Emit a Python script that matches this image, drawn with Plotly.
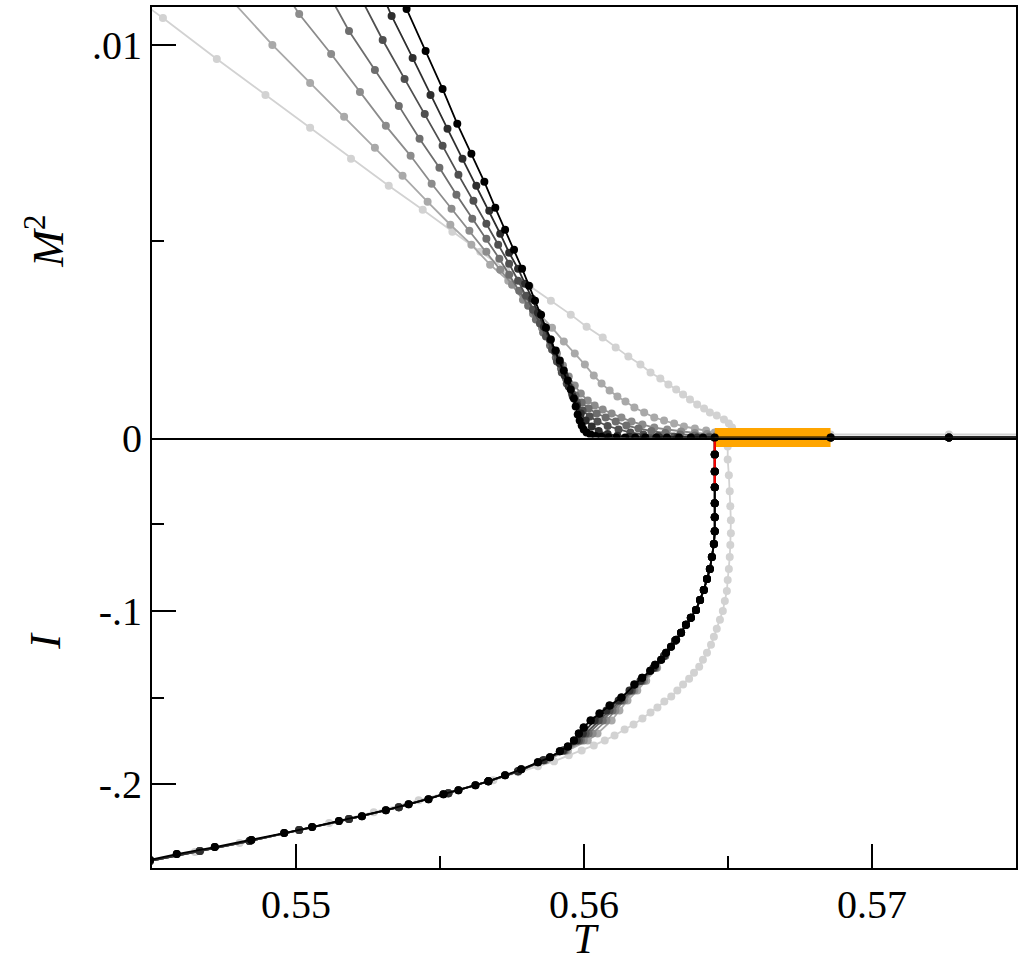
import plotly.graph_objects as go

# ---------------- data ----------------
# series order: lightest (L1) ... black (S7)
T_L1_TOP = [0.54462,0.54538,0.54725,0.54894,0.55049,0.55191,0.55322,0.55440,0.55543,0.55640,
            0.55730,0.55813,0.55885,0.55954,0.56009,0.56065,0.56110,0.56154,0.56196,0.56231,
            0.56265,0.56293,0.56320,0.56344,0.56368,0.56393,0.56417,0.56437,0.56461,0.56486,
            0.56503,0.56514,0.56520,0.56531,0.56856,0.57267,0.57706]
M2_L1 = [0.011094,0.010687,0.009644,0.008728,0.007888,0.007099,0.006412,0.005802,0.005242,0.004733,
         0.004275,0.003842,0.003486,0.003130,0.002824,0.002545,0.002290,0.002061,0.001858,0.001654,
         0.001501,0.001349,0.001221,0.001094,0.000967,0.000840,0.000738,0.000636,0.000560,0.000458,
         0.000356,0.000254,0.000153,0.000076,0.000076,0.000076,0.000076]
T_L1_BOT = [0.54493,0.54649,0.54804,0.54959,0.55115,0.55270,0.55426,0.55564,0.55685,0.55771,
            0.55840,0.55896,0.55947,0.55992,0.56034,0.56072,0.56106,0.56141,0.56172,0.56203,
            0.56231,0.56255,0.56279,0.56303,0.56324,0.56344,0.56365,0.56382,0.56400,0.56413,
            0.56427,0.56441,0.56451,0.56461,0.56472,0.56482,0.56489,0.56496,0.56499,0.56503,
            0.56506,0.56508,0.56510,0.56510,0.56508,0.56506,0.56503,0.56499,0.56499,0.56506,
            0.56856,0.57267,0.57706]
I_L1 = [-0.24425,-0.23908,-0.23391,-0.22816,-0.22241,-0.21609,-0.20920,-0.20345,-0.19770,-0.19310,
        -0.18966,-0.18678,-0.18333,-0.18046,-0.17759,-0.17471,-0.17184,-0.16839,-0.16552,-0.16207,
        -0.15862,-0.15575,-0.15230,-0.14943,-0.14598,-0.14253,-0.13908,-0.13563,-0.13218,-0.12816,
        -0.12414,-0.11954,-0.11494,-0.11034,-0.10517,-0.10000,-0.09425,-0.08851,-0.08218,-0.07586,
        -0.06897,-0.06207,-0.05517,-0.04770,-0.03966,-0.03103,-0.02184,-0.01264,-0.00517,0.0,
        0.0,0.0,0.0]

T_S2_TOP = [0.54766,0.54918,0.55049,0.55167,0.55274,0.55370,0.55457,0.55536,0.55609,0.55674,
            0.55737,0.55792,0.55844,0.55889,0.55930,0.55968,0.56003,0.56034,0.56061,0.56089,
            0.56116,0.56144,0.56175,0.56209,0.56244,0.56278,0.56313,0.56347,0.56385,0.56424,
            0.56454,0.56486,0.56517,0.56856,0.57267,0.57706]
M2_S2 = [0.011221,0.010000,0.009033,0.008168,0.007379,0.006667,0.006005,0.005420,0.004911,0.004402,
         0.003995,0.003562,0.003155,0.002799,0.002443,0.002137,0.001858,0.001578,0.001374,0.001196,
         0.001043,0.000916,0.000763,0.000636,0.000509,0.000433,0.000356,0.000280,0.000229,0.000178,
         0.000127,0.000076,0.000025,0.0,0.0,0.0]

T_S3_TOP = [0.54977,0.55011,0.55122,0.55222,0.55312,0.55398,0.55471,0.55540,0.55602,0.55661,
            0.55709,0.55750,0.55788,0.55823,0.55854,0.55882,0.55906,0.55927,0.55947,0.55968,
            0.55989,0.56013,0.56037,0.56065,0.56096,0.56130,0.56165,0.56203,0.56244,0.56289,
            0.56337,0.56385,0.56427,0.56461,0.56496,0.56856,0.57267,0.57706]
M2_S3 = [0.011170,0.010789,0.009771,0.008804,0.007939,0.007176,0.006463,0.005827,0.005267,0.004733,
         0.004275,0.003893,0.003511,0.003155,0.002799,0.002468,0.002137,0.001832,0.001552,0.001323,
         0.001120,0.000941,0.000814,0.000712,0.000611,0.000509,0.000407,0.000331,0.000254,0.000204,
         0.000153,0.000115,0.000089,0.000064,0.000025,0.0,0.0,0.0]

T_S4_TOP = [0.55125,0.55184,0.55274,0.55357,0.55429,0.55498,0.55557,0.55612,0.55661,0.55706,
            0.55740,0.55775,0.55806,0.55833,0.55858,0.55882,0.55902,0.55920,0.55937,0.55954,
            0.55971,0.55992,0.56016,0.56044,0.56075,0.56110,0.56147,0.56189,0.56234,0.56282,
            0.56334,0.56385,0.56434,0.56461,0.56856,0.57267,0.57706]
M2_S4 = [0.011145,0.010356,0.009364,0.008448,0.007608,0.006870,0.006183,0.005573,0.005064,0.004555,
         0.004148,0.003740,0.003359,0.003003,0.002672,0.002341,0.002036,0.001756,0.001501,0.001272,
         0.001069,0.000891,0.000738,0.000611,0.000509,0.000407,0.000305,0.000229,0.000165,0.000115,
         0.000076,0.000051,0.000025,0.000013,0.0,0.0,0.0]

T_S5_TOP = [0.55229,0.55301,0.55377,0.55447,0.55509,0.55564,0.55616,0.55661,0.55702,0.55740,
            0.55771,0.55799,0.55823,0.55847,0.55868,0.55889,0.55906,0.55923,0.55940,0.55958,
            0.55975,0.55995,0.56020,0.56047,0.56082,0.56120,0.56161,0.56206,0.56258,0.56313,
            0.56372,0.56434,0.56856,0.57267,0.57706]
M2_S5 = [0.011145,0.010127,0.009135,0.008244,0.007430,0.006692,0.006031,0.005445,0.004911,0.004427,
         0.003995,0.003613,0.003257,0.002901,0.002570,0.002239,0.001934,0.001654,0.001374,0.001120,
         0.000891,0.000687,0.000534,0.000407,0.000293,0.000204,0.000127,0.000076,0.000038,0.000018,
         0.000005,0.0,0.0,0.0,0.0]

T_S6_TOP = [0.55308,0.55332,0.55405,0.55467,0.55526,0.55578,0.55626,0.55671,0.55709,0.55740,
            0.55771,0.55795,0.55820,0.55840,0.55861,0.55882,0.55899,0.55916,0.55933,0.55947,
            0.55961,0.55975,0.55989,0.56006,0.56027,0.56051,0.56082,0.56116,0.56158,0.56206,
            0.56262,0.56324,0.56393,0.56454,0.56856,0.57267,0.57706]
M2_S6 = [0.011145,0.010738,0.009669,0.008728,0.007863,0.007099,0.006412,0.005776,0.005191,0.004707,
         0.004300,0.003919,0.003537,0.003181,0.002824,0.002494,0.002188,0.001883,0.001578,0.001298,
         0.001043,0.000814,0.000611,0.000433,0.000280,0.000165,0.000089,0.000043,0.000018,0.000005,
         0.0,0.0,0.0,0.0,0.0,0.0,0.0]

T_S7_TOP = [0.55370,0.55384,0.55450,0.55509,0.55560,0.55609,0.55654,0.55692,0.55726,0.55757,
            0.55785,0.55809,0.55830,0.55851,0.55868,0.55885,0.55902,0.55916,0.55930,0.55944,
            0.55954,0.55965,0.55971,0.55978,0.55985,0.55992,0.55999,0.56009,0.56023,0.56040,
            0.56061,0.56085,0.56112,0.56143,0.56178,0.56213,0.56251,0.56288,0.56330,0.56371,
            0.56413,0.56454,0.56856,0.57267,0.57706]
M2_S7 = [0.011145,0.010916,0.009847,0.008880,0.007990,0.007226,0.006514,0.005852,0.005293,0.004784,
         0.004300,0.003868,0.003486,0.003130,0.002799,0.002494,0.002214,0.001959,0.001705,0.001450,
         0.001221,0.000992,0.000789,0.000585,0.000433,0.000305,0.000204,0.000127,0.000076,0.000038,
         0.000018,0.000005,0.0,0.0,0.0,0.0,0.0,0.0,0.0,0.0,
         0.0,0.0,0.0,0.0,0.0]

# bottom panel (I) for the intermediate series, sampled on common I levels
I_GRAY = [-0.24425,-0.23851,-0.23276,-0.22644,-0.22011,-0.21322,-0.20517,-0.19828,-0.19253,
          -0.18621,-0.18046,-0.17471,-0.17069,-0.16322,-0.15747,-0.15172,-0.14598,-0.14023,-0.13276,-0.12586,-0.11724,
          -0.11264,-0.10805,-0.10402,-0.09943,-0.09368,-0.08793,-0.08161,-0.07586,-0.06897,-0.06149,
          -0.05402,-0.04598,-0.03793,-0.02874,-0.01954,-0.00977,0.0,0.0,0.0,0.0]
T_S2_BOT = [0.54493,0.54666,0.54839,0.55011,0.55184,0.55357,0.55529,0.55668,0.55771,
            0.55868,0.55944,0.56013,0.56047,0.56096,0.56123,0.56151,0.56185,0.56216,0.56254,0.56282,0.56316,
            0.56337,0.56354,0.56371,0.56389,0.56403,0.56416,0.56427,0.56437,0.56444,0.56451,
            0.56454,0.56454,0.56454,0.56454,0.56454,0.56454,0.56454,0.56856,0.57267,0.57706]
T_S3_BOT = [0.54493,0.54666,0.54839,0.55011,0.55184,0.55357,0.55529,0.55668,0.55771,
            0.55864,0.55937,0.55999,0.56030,0.56078,0.56109,0.56140,0.56175,0.56209,0.56251,0.56282,0.56316,
            0.56337,0.56354,0.56371,0.56389,0.56403,0.56416,0.56427,0.56437,0.56444,0.56451,
            0.56454,0.56454,0.56454,0.56454,0.56454,0.56454,0.56454,0.56856,0.57267,0.57706]
T_S4_BOT = [0.54493,0.54666,0.54839,0.55011,0.55184,0.55357,0.55529,0.55668,0.55771,
            0.55861,0.55933,0.55989,0.56016,0.56065,0.56099,0.56133,0.56168,0.56203,0.56247,0.56282,0.56316,
            0.56337,0.56354,0.56371,0.56389,0.56403,0.56416,0.56427,0.56437,0.56444,0.56451,
            0.56454,0.56454,0.56454,0.56454,0.56454,0.56454,0.56454,0.56856,0.57267,0.57706]
T_S5_BOT = [0.54493,0.54666,0.54839,0.55011,0.55184,0.55357,0.55529,0.55668,0.55771,
            0.55861,0.55930,0.55982,0.56006,0.56051,0.56089,0.56127,0.56165,0.56199,0.56244,0.56278,0.56316,
            0.56337,0.56354,0.56371,0.56389,0.56403,0.56416,0.56427,0.56437,0.56444,0.56451,
            0.56454,0.56454,0.56454,0.56454,0.56454,0.56454,0.56454,0.56856,0.57267,0.57706]
T_S6_BOT = [0.54493,0.54666,0.54839,0.55011,0.55184,0.55357,0.55529,0.55668,0.55771,
            0.55858,0.55927,0.55975,0.55996,0.56037,0.56078,0.56120,0.56158,0.56196,0.56241,0.56278,0.56316,
            0.56337,0.56354,0.56371,0.56389,0.56403,0.56416,0.56427,0.56437,0.56444,0.56451,
            0.56454,0.56454,0.56454,0.56454,0.56454,0.56454,0.56454,0.56856,0.57267,0.57706]

T_S7_BOT = [0.54493,0.54586,0.54718,0.54845,0.54959,0.55056,0.55149,0.55229,0.55312,0.55391,
            0.55460,0.55512,0.55564,0.55623,0.55668,0.55726,0.55782,0.55840,0.55882,0.55916,
            0.55944,0.55965,0.55982,0.55999,0.56023,0.56054,0.56089,0.56130,0.56175,0.56202,
            0.56230,0.56247,0.56268,0.56285,0.56302,0.56320,0.56337,0.56354,0.56371,0.56389,
            0.56403,0.56416,0.56427,0.56437,0.56444,0.56451,0.56454,0.56454,0.56454,0.56454,
            0.56454,0.56454,0.56454,0.56856,0.57267,0.57706]
I_S7 = [-0.24368,-0.24023,-0.23621,-0.23218,-0.22816,-0.22471,-0.22126,-0.21839,-0.21494,-0.21149,
        -0.20862,-0.20575,-0.20345,-0.20057,-0.19828,-0.19483,-0.19138,-0.18736,-0.18448,-0.18103,
        -0.17816,-0.17471,-0.17069,-0.16724,-0.16322,-0.15920,-0.15460,-0.15000,-0.14253,-0.13851,
        -0.13448,-0.13103,-0.12816,-0.12414,-0.12069,-0.11667,-0.11264,-0.10805,-0.10402,-0.09943,
        -0.09368,-0.08793,-0.08161,-0.07586,-0.06897,-0.06149,-0.05402,-0.04598,-0.03793,-0.02874,
        -0.01954,-0.00977,0.0,0.0,0.0,0.0]

# highlighted interval (orange band on the zero line) and red marker segment in I
BAR_T = [0.56454, 0.56856]
BAR_ZERO = [0.0, 0.0]
RED_T = [0.56454, 0.56454]
RED_I = [0.0, -0.0290]

SERIES = [
    ("#d2d2d2", T_L1_TOP, M2_L1, T_L1_BOT, I_L1),
    ("#a9a9a9", T_S2_TOP, M2_S2, T_S2_BOT, I_GRAY),
    ("#8c8c8c", T_S3_TOP, M2_S3, T_S3_BOT, I_GRAY),
    ("#6e6e6e", T_S4_TOP, M2_S4, T_S4_BOT, I_GRAY),
    ("#505050", T_S5_TOP, M2_S5, T_S5_BOT, I_GRAY),
    ("#2e2e2e", T_S6_TOP, M2_S6, T_S6_BOT, I_GRAY),
]
BLACK = ("#000000", T_S7_TOP, M2_S7, T_S7_BOT, I_S7)

FONT = "Liberation Serif"
MS = 8
LW = 1.8
fig = go.Figure()

def add_series(color, tt, m2, tb, ii):
    fig.add_trace(go.Scatter(x=tt, y=m2, xaxis="x2", yaxis="y2", mode="lines+markers",
                             line=dict(color=color, width=LW),
                             marker=dict(size=MS, color=color),
                             showlegend=False, hoverinfo="skip"))
    fig.add_trace(go.Scatter(x=tb, y=ii, xaxis="x", yaxis="y", mode="lines+markers",
                             line=dict(color=color, width=LW),
                             marker=dict(size=MS, color=color),
                             showlegend=False, hoverinfo="skip"))

for s in SERIES:
    add_series(*s)

# orange band: drawn in both panels so each half shows on its side of the zero line
for xa, ya in (("x2", "y2"), ("x", "y")):
    fig.add_trace(go.Scatter(x=BAR_T, y=BAR_ZERO, xaxis=xa, yaxis=ya, mode="lines",
                             line=dict(color="#FFA500", width=19), showlegend=False,
                             hoverinfo="skip"))

add_series(*BLACK)

fig.add_trace(go.Scatter(x=RED_T, y=RED_I, xaxis="x", yaxis="y", mode="lines",
                         line=dict(color="#ff0000", width=2.2), showlegend=False, hoverinfo="skip"))
fig.add_trace(go.Scatter(x=T_S7_BOT, y=I_S7, xaxis="x", yaxis="y", mode="markers",
                         marker=dict(size=MS, color="#000000"), showlegend=False, hoverinfo="skip"))

tick_common = dict(showgrid=False, zeroline=False, ticks="inside", ticklen=24,
                   tickwidth=2, tickcolor="black",
                   tickfont=dict(family=FONT, size=40, color="black"))

fig.update_layout(
    width=1023, height=961,
    margin=dict(l=152, r=5, t=5, b=93),
    paper_bgcolor="white", plot_bgcolor="white",
    xaxis=dict(domain=[0, 1], anchor="y", range=[0.545, 0.575],
               showline=True, mirror=False, linewidth=2, linecolor="black",
               tickmode="array", tickvals=[0.55, 0.56, 0.57], ticktext=["0.55", "0.56", "0.57"],
               minor=dict(tickmode="array", tickvals=[0.555, 0.565], ticks="inside",
                          ticklen=12, tickwidth=2, tickcolor="black"),
               **tick_common),
    xaxis2=dict(domain=[0, 1], anchor="y2", range=[0.545, 0.575], matches="x",
                showline=True, mirror=True, linewidth=2, linecolor="black",
                showgrid=False, zeroline=False, ticks="", showticklabels=False),
    yaxis=dict(domain=[0, 0.5], anchor="x", range=[-0.2483, 0.0],
               showline=True, mirror=True, linewidth=2, linecolor="black",
               tickmode="array", tickvals=[-0.2, -0.1], ticktext=["-.2", "-.1"],
               minor=dict(tickmode="array", tickvals=[-0.15, -0.05], ticks="inside",
                          ticklen=12, tickwidth=2, tickcolor="black"),
               **tick_common),
    yaxis2=dict(domain=[0.5, 1], anchor="x2", range=[0.0, 0.010967],
                showline=True, mirror=True, linewidth=2, linecolor="black",
                tickmode="array", tickvals=[0.0, 0.01], ticktext=["0", ".01"],
                minor=dict(tickmode="array", tickvals=[0.005], ticks="inside",
                           ticklen=12, tickwidth=2, tickcolor="black"),
                **tick_common),
    annotations=[
        dict(text="<i>M</i><sup>2</sup>", xref="paper", yref="paper", x=-0.1236, y=0.7277,
             showarrow=False, textangle=-90, font=dict(family=FONT, size=44, color="black"),
             xanchor="center", yanchor="middle"),
        dict(text="<i>I</i>", xref="paper", yref="paper", x=-0.1236, y=0.2642,
             showarrow=False, textangle=-90, font=dict(family=FONT, size=44, color="black"),
             xanchor="center", yanchor="middle"),
        dict(text="<i>T</i>", xref="paper", yref="paper", x=0.5023, y=-0.0823,
             showarrow=False, font=dict(family=FONT, size=42, color="black"),
             xanchor="center", yanchor="middle"),
    ],
)

fig.write_html("out.html")
